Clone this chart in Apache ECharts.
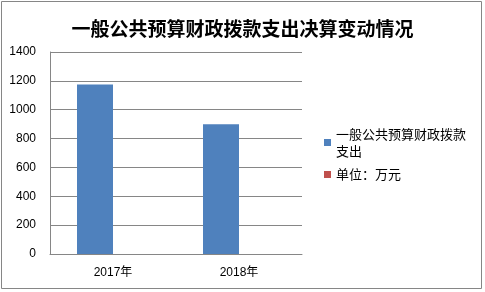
<!DOCTYPE html>
<html><head><meta charset="utf-8">
<script src="https://cdn.jsdelivr.net/npm/echarts@6/dist/echarts.min.js"></script>
<style>html,body{margin:0;padding:0;background:#fff}#c{width:485px;height:292px}</style>
</head><body><div id="c"></div>
<script>
var titleText = '一般公共预算财政拨款支出决算变动情况';
var categories = ['2017年', '2018年'];
var seriesNames = ['一般公共预算财政拨款支出', '单位：万元'];
var spendValues = [1175, 900];
var unitValues = [null, null];
var yTicks = [0, 200, 400, 600, 800, 1000, 1200, 1400];

var chart = echarts.init(document.getElementById('c'), null, {renderer: 'canvas'});
var font = '"Liberation Sans", "Noto Sans CJK SC", sans-serif';
chart.setOption({
  animation: false,
  backgroundColor: '#fff',
  title: {
    text: titleText, left: 'center', top: 14,
    textStyle: {fontSize: 19, fontWeight: 'bold', color: '#000', fontFamily: '"Noto Sans CJK SC", sans-serif'}
  },
  graphic: [{
    type: 'rect', shape: {x: 1.5, y: 1.5, width: 480, height: 287},
    style: {fill: 'none', stroke: '#868686', lineWidth: 1}, silent: true
  }],
  legend: [{
    data: [seriesNames[0]], orient: 'vertical', left: 324, top: 117, padding: 0,
    itemWidth: 7, itemHeight: 7, icon: 'rect',
    formatter: function () { return '一般公共预算财政拨款\n支出'; },
    textStyle: {fontSize: 13, lineHeight: 17, color: '#000', fontFamily: '"Noto Sans CJK SC", sans-serif', padding: [17, 0, 0, 0]}
  }, {
    data: [seriesNames[1]], orient: 'vertical', left: 324, top: 166, padding: 0,
    itemWidth: 7, itemHeight: 7, icon: 'rect',
    textStyle: {fontSize: 13, lineHeight: 17, color: '#000', fontFamily: '"Noto Sans CJK SC", sans-serif'}
  }],
  grid: {left: 50, right: 183, top: 52, bottom: 38, containLabel: false},
  xAxis: {
    type: 'category', data: categories,
    axisLine: {lineStyle: {color: '#868686', width: 1}},
    axisTick: {show: false},
    axisLabel: {fontSize: 12, color: '#000', margin: 13, fontFamily: font}
  },
  yAxis: {
    type: 'value', min: yTicks[0], max: yTicks[yTicks.length - 1], interval: 200,
    axisLine: {show: true, lineStyle: {color: '#868686', width: 1}},
    axisTick: {show: false},
    splitLine: {lineStyle: {color: '#868686', width: 1}},
    axisLabel: {fontSize: 12, color: '#000', margin: 14, fontFamily: font,
      formatter: function (v) { return String(v); }}
  },
  series: [{
    name: seriesNames[0], type: 'bar', data: spendValues,
    barWidth: 36, barGap: '0%', barCategoryGap: '42.7%',
    itemStyle: {color: '#4f81bd'}
  }, {
    name: seriesNames[1], type: 'bar', data: unitValues,
    barWidth: 36, barGap: '0%',
    itemStyle: {color: '#c0504d'}
  }]
});
</script></body></html>
